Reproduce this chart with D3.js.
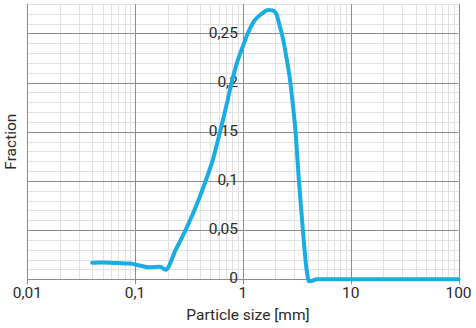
<!DOCTYPE html>
<html>
<head>
<meta charset="utf-8">
<script src="https://cdn.jsdelivr.net/npm/d3@7"></script>
<style>
    body { margin: 0; background: #fff; }
    svg { display: block; font-family: Roboto, "DejaVu Sans", sans-serif; }
</style>
</head>
<body>
<div id="chart"></div>
<script>
// Particle size distribution
const sizes = [0.04, 0.05, 0.07, 0.09, 0.11, 0.137, 0.17, 0.192, 0.2375, 0.294, 0.388, 0.451, 0.524, 0.614, 0.721, 0.785, 0.874, 1.0, 1.1, 1.28, 1.49, 1.72, 1.88, 2.04, 2.19, 2.35, 2.53, 2.71, 2.85, 3.08, 3.31, 3.6, 3.95, 4.1, 4.4, 4.8, 10, 100];
const fractions = [0.0168, 0.0170, 0.0165, 0.0160, 0.0140, 0.0122, 0.0128, 0.0098, 0.0298, 0.050, 0.0806, 0.100, 0.121, 0.150, 0.182, 0.200, 0.219, 0.237, 0.249, 0.263, 0.270, 0.2738, 0.2735, 0.270, 0.258, 0.245, 0.226, 0.206, 0.186, 0.15, 0.1, 0.05, 0.005, -0.002, -0.0015, 0, 0, 0];

const xTicks = [0.01, 0.1, 1, 10, 100];
const xTickLabels = ["0,01", "0,1", "1", "10", "100"];
const yTicks = [0, 0.05, 0.1, 0.15, 0.2, 0.25];
const yTickLabels = ["0", "0,05", "0,1", "0,15", "0,2", "0,25"];

const width = 476, height = 328;
const margin = { top: 4, right: 17.5, bottom: 48.7, left: 27.3 };

const svg = d3.select("#chart").append("svg")
    .attr("width", width)
    .attr("height", height);

const x = d3.scaleLog()
    .domain([0.01, 100])
    .range([margin.left, width - margin.right]);

const y = d3.scaleLinear()
    .domain([0, 0.28])
    .range([height - margin.bottom, margin.top]);

// minor grid: 2..9 in each decade, every 0.01 on y
const minorX = [];
[0.01, 0.1, 1, 10].forEach(d => { for (let k = 2; k <= 9; k++) minorX.push(d * k); });
const minorY = d3.range(1, 29).filter(i => i % 5 !== 0).map(i => i / 100);

const grid = svg.append("g");
grid.selectAll(".minor-x")
    .data(minorX)
    .enter().append("line")
    .attr("x1", d => Math.round(x(d)) + 0.5)
    .attr("x2", d => Math.round(x(d)) + 0.5)
    .attr("y1", y(0.28))
    .attr("y2", y(0))
    .attr("stroke", "#e2e2e2");

grid.selectAll(".minor-y")
    .data(minorY)
    .enter().append("line")
    .attr("x1", x(0.01))
    .attr("x2", x(100))
    .attr("y1", d => Math.round(y(d)) + 0.5)
    .attr("y2", d => Math.round(y(d)) + 0.5)
    .attr("stroke", "#e2e2e2");

// major grid
grid.selectAll(".major-y")
    .data(yTicks.slice(1))
    .enter().append("line")
    .attr("x1", x(0.01))
    .attr("x2", x(100))
    .attr("y1", d => Math.round(y(d)) + 0.5)
    .attr("y2", d => Math.round(y(d)) + 0.5)
    .attr("stroke", "#8c8c8c");

grid.selectAll(".major-x")
    .data(xTicks)
    .enter().append("line")
    .attr("x1", d => Math.round(x(d)) + 0.5)
    .attr("x2", d => Math.round(x(d)) + 0.5)
    .attr("y1", y(0.28))
    .attr("y2", y(0) + 5)
    .attr("stroke", "#8c8c8c");

// x axis line
svg.append("line")
    .attr("x1", x(0.01))
    .attr("x2", x(100))
    .attr("y1", Math.round(y(0)) + 0.5)
    .attr("y2", Math.round(y(0)) + 0.5)
    .attr("stroke", "#8c8c8c");

// x tick labels
svg.selectAll(".x-label")
    .data(xTicks)
    .enter().append("text")
    .attr("x", d => x(d))
    .attr("y", y(0) + 14.5)
    .attr("text-anchor", "middle")
    .attr("dominant-baseline", "middle")
    .style("font-size", "15.5px")
    .style("fill", "#2a2a2a")
    .text((d, i) => xTickLabels[i]);

// y tick labels sit inside the plot, left of x = 1
svg.selectAll(".y-label")
    .data(yTicks)
    .enter().append("text")
    .attr("x", x(1) - 5)
    .attr("y", d => y(d))
    .attr("text-anchor", "end")
    .attr("dominant-baseline", "middle")
    .style("font-size", "15.5px")
    .style("fill", "#2a2a2a")
    .text((d, i) => yTickLabels[i]);

// axis titles
svg.append("text")
    .attr("x", 248)
    .attr("y", 316)
    .attr("text-anchor", "middle")
    .attr("dominant-baseline", "middle")
    .style("font-size", "15.5px")
    .style("fill", "#2a2a2a")
    .text("Particle size [mm]");

svg.append("text")
    .attr("transform", `translate(12,${(y(0) + y(0.28)) / 2}) rotate(-90)`)
    .attr("text-anchor", "middle")
    .attr("dominant-baseline", "middle")
    .style("font-size", "15.5px")
    .style("fill", "#2a2a2a")
    .text("Fraction");

// distribution curve
const points = sizes.map((s, i) => ({ size: s, value: fractions[i] }));
const line = d3.line()
    .x(d => x(d.size))
    .y(d => y(d.value))
    .curve(d3.curveMonotoneX);

svg.append("path")
    .datum(points)
    .attr("fill", "none")
    .attr("stroke", "#19ade4")
    .attr("stroke-width", 4)
    .attr("stroke-linejoin", "round")
    .attr("stroke-linecap", "round")
    .attr("d", line);
</script>
</body>
</html>
